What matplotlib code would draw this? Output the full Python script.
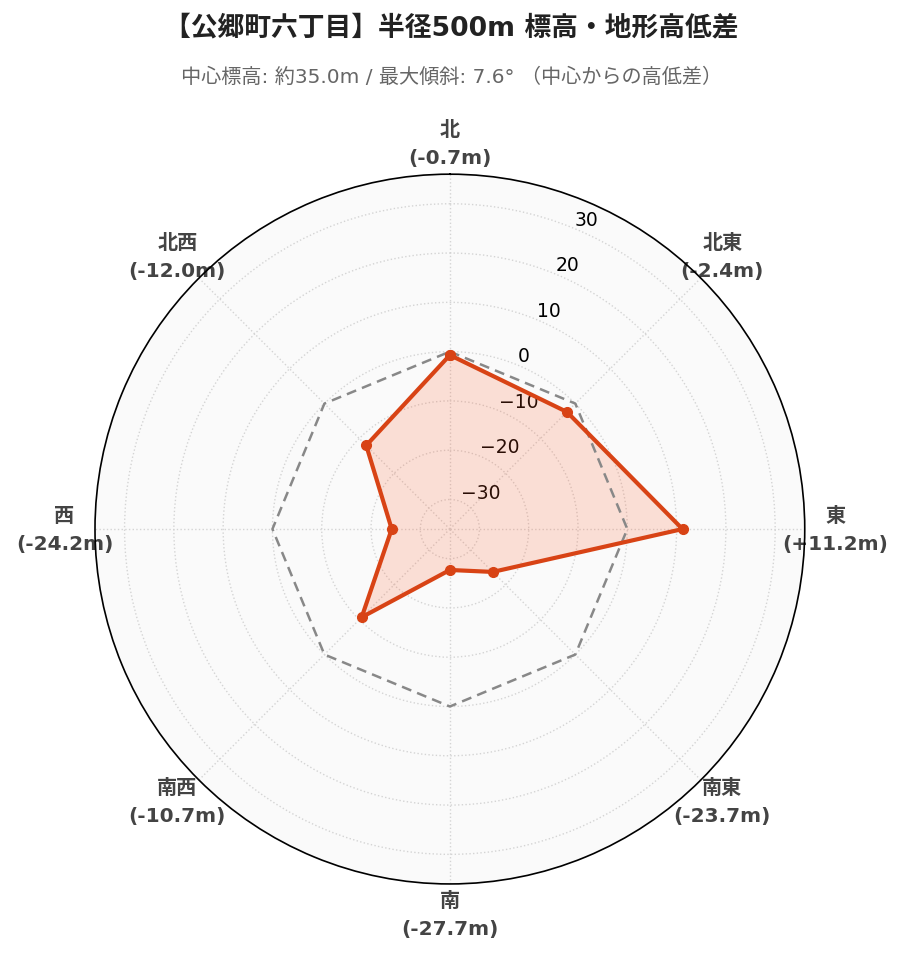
import numpy as np
import matplotlib
matplotlib.use("Agg")
import matplotlib.pyplot as plt

plt.rcParams['font.family'] = ['DejaVu Sans', 'Noto Sans CJK JP']

directions = ["北", "北東", "東", "南東", "南", "南西", "西", "北西"]
values = [-0.7, -2.4, 11.2, -23.7, -27.7, -10.7, -24.2, -12.0]
reference = [0, 0, 0, 0, 0, 0, 0, 0]
r_ticks = [-30, -20, -10, 0, 10, 20, 30]
r_range = [-36.0, 36.0]
title = "【公郷町六丁目】半径500m 標高・地形高低差"
subtitle = "中心標高: 約35.0m / 最大傾斜: 7.6° （中心からの高低差）"

line_color = "#d84315"
fill_color = "#ff5722"

fig = plt.figure(figsize=(9.03, 9.62), dpi=100)
ax = fig.add_axes([0.1052, 0.080, 0.786, 0.738], projection='polar')
ax.set_theta_zero_location('N')
ax.set_theta_direction(-1)
ax.set_facecolor('#fafafa')

n = len(directions)
theta = np.arange(n) * 2 * np.pi / n
th_c = np.append(theta, theta[0])
v_c = np.append(values, values[0])
ref_c = np.append(reference, reference[0])

ax.plot(th_c, ref_c, color='#888888', linestyle='--', linewidth=1.8, dashes=(4, 2.5), zorder=3)
ax.fill(th_c, v_c, color=fill_color, alpha=0.17, linewidth=0, zorder=2)
ax.plot(th_c, v_c, color=line_color, linewidth=3.0, marker='o', markersize=7, zorder=4)

ax.set_ylim(r_range)
ax.set_yticks(r_ticks)
ax.set_yticklabels([f"{t}".replace('-', '\u2212') for t in r_ticks], fontsize=13.5, color='black')
ax.set_rlabel_position(22.5)

labels = [f"{d}\n({v:+.1f}m)" if v > 0 else f"{d}\n({v:.1f}m)" for d, v in zip(directions, values)]
ax.set_xticks(theta)
ax.set_xticklabels(labels, fontsize=14.5, fontweight='bold', color='#444444', linespacing=1.6)
ax.tick_params(axis='x', pad=15, length=0)

ax.grid(True, color='#d4d4d4', linestyle=':', linewidth=1.0)
ax.spines['polar'].set_color('black')
ax.spines['polar'].set_linewidth(1.2)

fig.text(0.5, 0.970, title, ha='center', va='center', fontsize=19.3, fontweight='bold', color='#222222')
fig.text(0.5, 0.920, subtitle, ha='center', va='center', fontsize=14.5, color='#666666')

fig.savefig('out.png', dpi=100)
